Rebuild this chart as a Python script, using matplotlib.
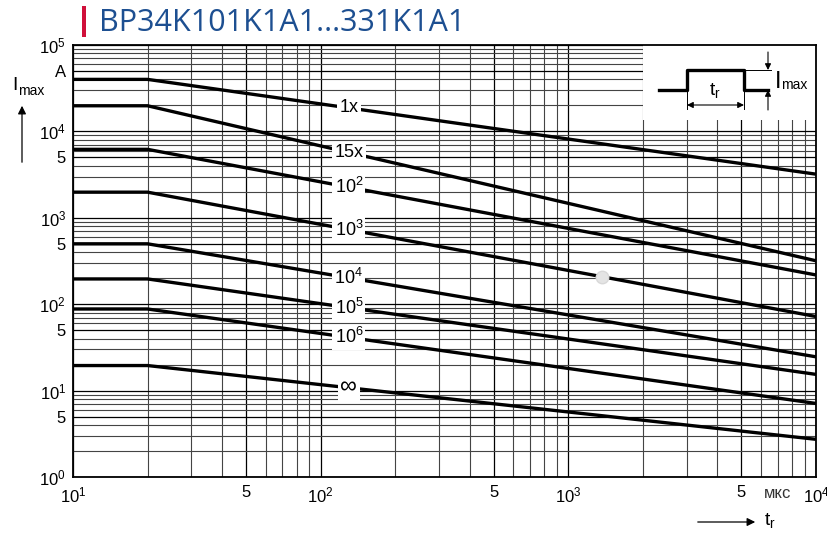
import matplotlib.pyplot as plt
import matplotlib.patches as mpatches
import numpy as np

plt.rcParams['font.family'] = ['Liberation Sans', 'DejaVu Sans']
plt.rcParams['mathtext.fontset'] = 'custom'
plt.rcParams['mathtext.rm'] = 'Liberation Sans'
plt.rcParams['mathtext.it'] = 'Liberation Sans:italic'

# pulse duration t_r in мкс, max current in A
t_knee = 20
t_end = 1e4
curve_names = ['1x', '15x', '$10^2$', '$10^3$', '$10^4$', '$10^5$', '$10^6$', '∞']
label_sizes = [13, 13, 13, 13, 13, 13, 13, 17]
i_start = [40000, 19800, 6200, 1980, 500, 196, 88, 19.5]
i_end = [3200, 318, 218, 72, 24.6, 15.4, 7.1, 2.73]
t_label = 130
t_spot = 1370  # grey spot on the 10^3 curve

x_ticks = [10, 50, 100, 500, 1000, 5000, 1e4]
x_ticklabels = ['$10^1$', '5', '$10^2$', '5', '$10^3$', '5', '$10^4$']
y_ticks = [1, 5, 10, 50, 100, 500, 1000, 5000, 1e4, 5e4, 1e5]
y_ticklabels = ['$10^0$', '5', '$10^1$', '5', '$10^2$', '5', '$10^3$', '5', '$10^4$', 'A', '$10^5$']


def curve_at(t, a, b):
    k = np.log10(b / a) / np.log10(t_end / t_knee)
    return a * (t / t_knee) ** k


W, H = 828, 534
fig = plt.figure(figsize=(W / 100, H / 100), dpi=100)
x0, x1, y0, y1 = 73, 816, 45, 477
ax = fig.add_axes([x0 / W, 1 - y1 / H, (x1 - x0) / W, (y1 - y0) / H])
ax.set_xscale('log')
ax.set_yscale('log')
ax.set_xlim(10, 1e4)
ax.set_ylim(1, 1e5)

minor_x = [m * 10.0 ** k for k in range(1, 4) for m in range(2, 10)]
minor_y = [m * 10.0 ** k for k in range(0, 5) for m in range(2, 10)]
ax.set_xticks(x_ticks, x_ticklabels)
ax.set_yticks(y_ticks, y_ticklabels)
ax.set_xticks(minor_x, minor=True)
ax.set_yticks(minor_y, minor=True)
ax.tick_params(which='both', length=0)
ax.tick_params(axis='x', which='major', labelsize=12, pad=6)
ax.tick_params(axis='y', which='major', labelsize=12, pad=5)
ax.tick_params(which='minor', labelbottom=False, labelleft=False)
ax.set_axisbelow(True)
ax.grid(True, which='major', color='black', lw=0.9)
ax.grid(True, which='minor', color='#444444', lw=0.8)
for s in ax.spines.values():
    s.set_linewidth(1.3)
    s.set_zorder(3)

# white box for the pulse sketch
ax.axvspan(2000, 1e4, ymin=np.log10(13500) / 5, ymax=1, color='white', zorder=1.5, lw=0)

for name, fs, a, b in zip(curve_names, label_sizes, i_start, i_end):
    ax.plot([10, t_knee, t_end], [a, a, b], color='black', lw=2.4, solid_capstyle='butt', zorder=2)
    ax.text(t_label, curve_at(t_label, a, b), name, fontsize=fs, ha='center', va='center', zorder=2.5,
            bbox=dict(boxstyle='square,pad=0.12', fc='white', ec='none'))

ax.plot([t_spot], [curve_at(t_spot, i_start[3], i_end[3])], 'o', ms=9,
        color='#e4e4e4', mec='#d8d8d8', zorder=2.6)

# pulse sketch, drawn in pixel coordinates
ins = fig.add_axes([643 / W, 1 - 120 / H, (816 - 643) / W, 75 / H])
ins.set_xlim(643, 816)
ins.set_ylim(120, 45)
ins.set_axis_off()
ins.plot([659, 687, 687, 744, 744, 768], [90, 90, 70, 70, 90, 90], color='black', lw=2.4)
ins.plot([744, 771], [70, 70], color='black', lw=0.7)
ins.plot([687, 687], [90, 109], color='black', lw=0.7)
ins.plot([744, 744], [90, 109], color='black', lw=0.7)
arr = dict(color='black', lw=0.8, mutation_scale=9, shrinkA=0, shrinkB=0)
ins.annotate('', xy=(687, 105), xytext=(744, 105), arrowprops=dict(arrowstyle='<|-|>', **arr))
ins.annotate('', xy=(768, 70), xytext=(768, 52), arrowprops=dict(arrowstyle='-|>', **arr))
ins.annotate('', xy=(768, 90), xytext=(768, 110), arrowprops=dict(arrowstyle='-|>', **arr))
ins.text(715, 91, '$\\mathregular{t_r}$', fontsize=14, ha='center', va='center')
ins.text(775, 82, 'I', fontsize=17, ha='left', va='center')
ins.text(781, 85, 'max', fontsize=10, ha='left', va='center')

# axis captions
fig.text(12 / W, 1 - 85 / H, 'I', fontsize=14, ha='left', va='center')
fig.text(18 / W, 1 - 91 / H, 'max', fontsize=10, ha='left', va='center')
fig.patches.append(mpatches.FancyArrowPatch(
    (22 / W, 1 - 165 / H), (22 / W, 1 - 103 / H), transform=fig.transFigure,
    arrowstyle='-|>', mutation_scale=12, color='black', lw=0.9))
fig.patches.append(mpatches.FancyArrowPatch(
    (695 / W, 1 - 522 / H), (758 / W, 1 - 522 / H), transform=fig.transFigure,
    arrowstyle='-|>', mutation_scale=12, color='black', lw=0.9))
fig.text(764 / W, 1 - 521 / H, '$\\mathregular{t_r}$', fontsize=14, ha='left', va='center')
fig.text(778 / W, 1 - 494 / H, 'мкс', fontsize=12, ha='center', va='center', color='#333333')

# title
fig.patches.append(mpatches.Rectangle(
    (82 / W, 1 - 37 / H), 4 / W, 31 / H, transform=fig.transFigure, color='#d0103a', lw=0))
fig.text(99 / W, 1 - 31 / H, 'BP34K101K1A1...331K1A1', fontsize=22, color='#1d4f91',
         family=['Open Sans', 'DejaVu Sans'], weight='medium', ha='left', va='baseline')

fig.savefig('out.png', dpi=100)
